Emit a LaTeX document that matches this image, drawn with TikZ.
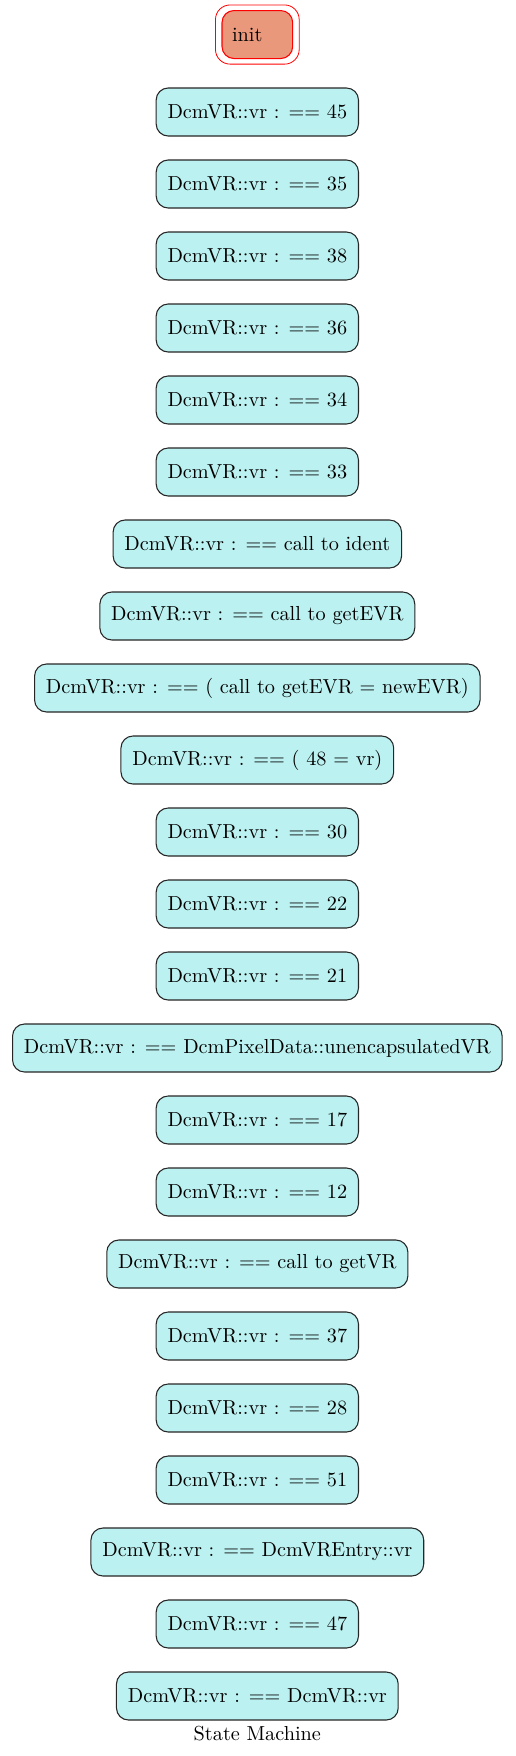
\documentclass[tikz,border=0pt]{standalone}
\usepackage{fontspec}
\setmainfont{lmroman10-regular.otf}
\usetikzlibrary{positioning}
\definecolor{statefill}{RGB}{187,241,240}
\definecolor{initfill}{RGB}{233,152,124}

\begin{document}
\begin{tikzpicture}[x=1pt,y=1pt,
    state/.style={draw=black!85,line width=0.8pt,fill=statefill,rounded corners=9pt,
        minimum height=36pt,inner xsep=8.5pt,font=\fontsize{15.2}{17}\selectfont},
    initstate/.style={draw=red,line width=0.8pt,fill=initfill,rounded corners=9pt,
        minimum height=36pt,inner xsep=7.5pt,text width=38pt,align=left,
        font=\fontsize{15.2}{17}\selectfont}]
\useasboundingbox (0,0) rectangle (386.25,-1317);

\node[initstate] (init) at (193,-25.9) {init};
\draw[red,line width=0.6pt,rounded corners=11pt]([shift={(-4.5,3.8)}]init.north west) rectangle ([shift={(4.5,-3.8)}]init.south east);

\foreach \lbl [count=\i] in {45,35,38,36,34,33,call to ident,call to getEVR,( call to getEVR = newEVR),( 48 = vr),30,22,21,DcmPixelData::unencapsulatedVR,17,12,call to getVR,37,28,51,DcmVREntry::vr,47,DcmVR::vr}
  \node[state] (s\i) at (193,{-84-54*(\i-1)}) {DcmVR::vr : == \lbl};

\node[font=\fontsize{15.2}{17}\selectfont,anchor=base] (title) at (193,-1305) {State Machine};
\end{tikzpicture}
\end{document}
